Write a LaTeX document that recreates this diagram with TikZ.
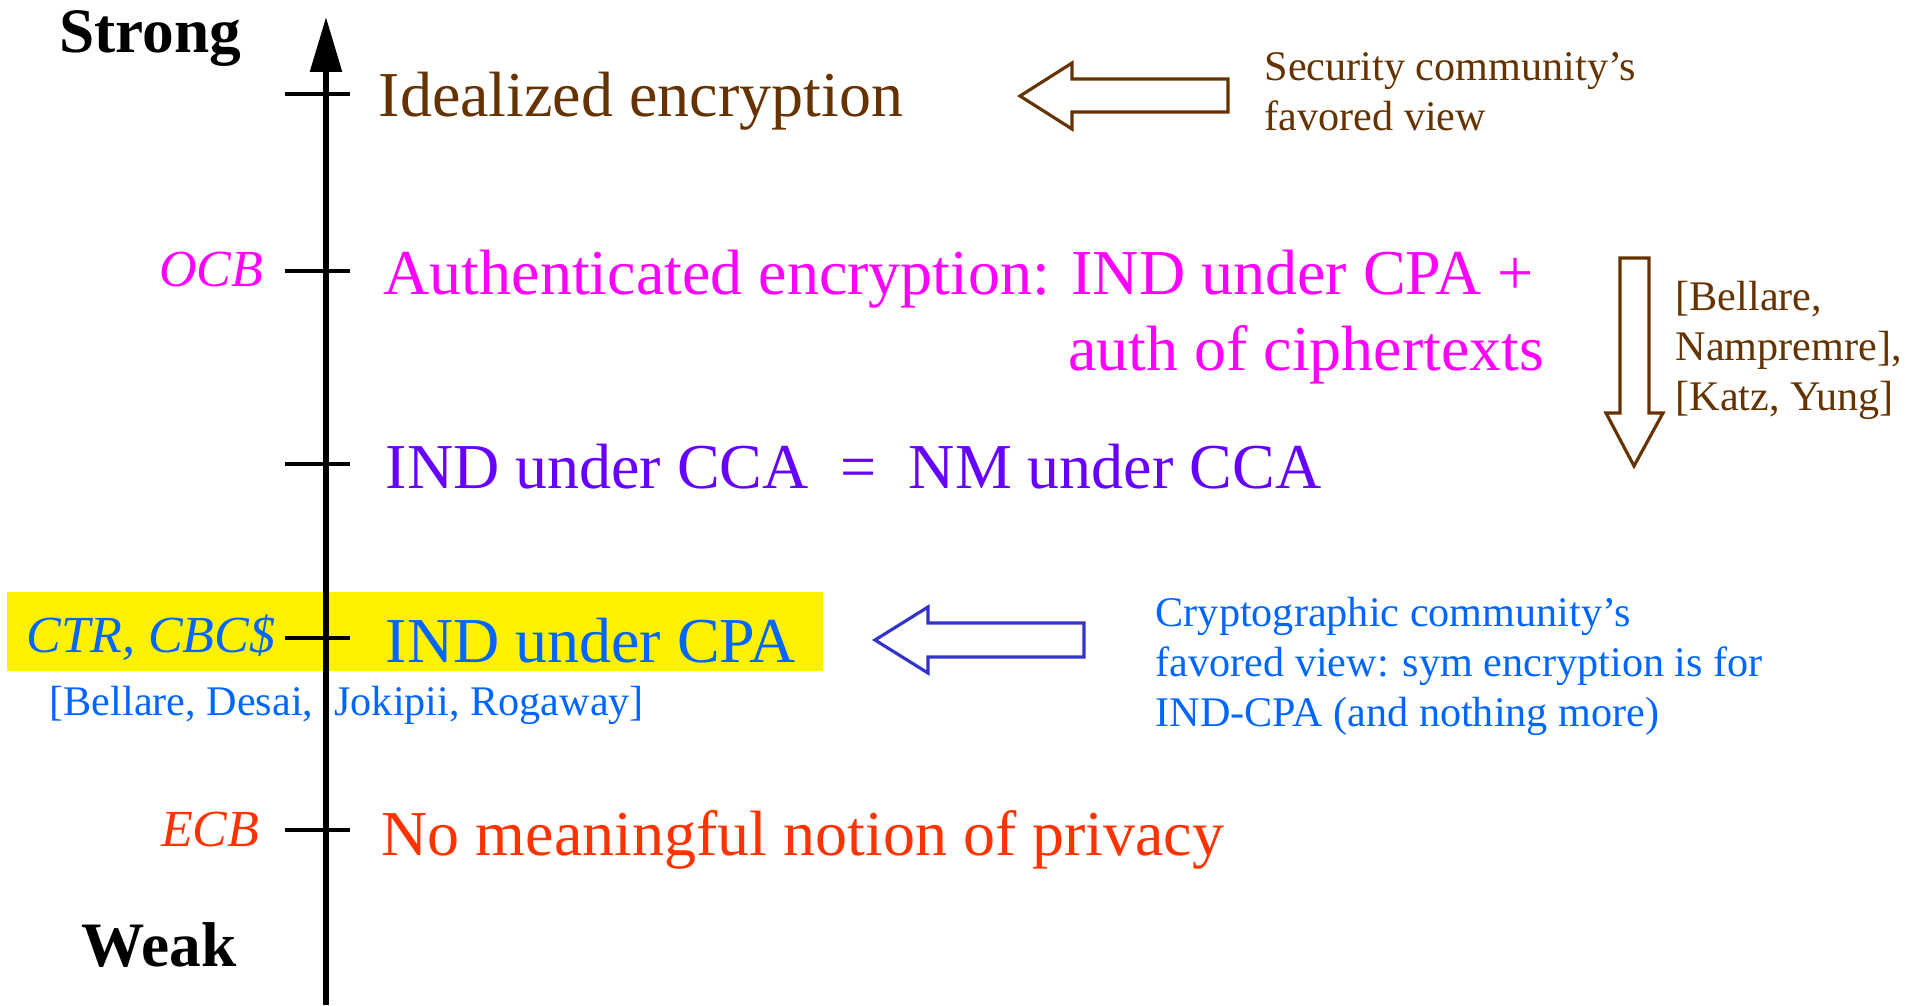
\documentclass[tikz,border=0pt]{standalone}
\usepackage{fontspec}
\setmainfont{Liberation Serif}
\usetikzlibrary{arrows.meta}

\definecolor{brownish}{HTML}{663300}
\definecolor{magentaish}{HTML}{FF00FF}
\definecolor{purpleish}{HTML}{6600FF}
\definecolor{blueish}{HTML}{0066FF}
\definecolor{redish}{HTML}{FF3300}
\definecolor{arrowblue}{HTML}{3333CC}

\tikzset{
  big/.style={anchor=base west, inner sep=0pt, font=\fontsize{18.2pt}{21.6pt}\selectfont},
  scheme/.style={anchor=base east, inner sep=0pt, font=\fontsize{14.8pt}{17pt}\selectfont\itshape},
  side/.style={anchor=base west, inner sep=0pt, align=left, font=\fontsize{12pt}{14.2pt}\selectfont},
  hollow/.style={line width=0.9pt, fill=white, line join=miter},
}

\begin{document}
\begin{tikzpicture}[x=0.01cm,y=-0.01cm]
  \useasboundingbox (0,0) rectangle (1923,1005);
  \def\ax{326};
  % highlight behind the IND-CPA level
  \fill[yellow] (7,592) rectangle (823,671);
  % strength axis and its ticks
  \draw[line width=1.6pt, -{Triangle[length=15.6pt,width=8.8pt]}] (\ax,1005) -- (\ax,17);
  \foreach \y in {94,271,464,638,830}
    \draw[line width=1.1pt] (285,\y) -- (350,\y);
  \node[anchor=base east, inner sep=0pt, font=\fontsize{18pt}{20pt}\selectfont\bfseries] (strong) at (242,52) {Strong};
  \node[anchor=base east, inner sep=0pt, font=\fontsize{18pt}{20pt}\selectfont\bfseries] (weak) at (237,966) {Weak};

  % notions, strongest first (multi-line nodes sit on their last baseline)
  \node[big, text=brownish] (ideal) at (378,116) {Idealized encryption};
  \node[big, text=magentaish, align=right] (ae) at (383,370) {Authenticated encryption: IND under CPA +\hspace*{3.1pt}\\auth of ciphertexts};
  \node[big, text=purpleish] (cca) at (385,488) {IND under CCA\ \ =\ \ NM under CCA};
  \node[big, text=blueish] (cpa) at (385,662) {IND under CPA};
  \node[big, text=redish] (none) at (381,855) {No meaningful notion of privacy};

  % schemes on the left of the axis
  \node[scheme, text=magentaish] (ocb) at (264,286) {OCB};
  \node[scheme, text=blueish] (ctr) at (276,652) {CTR, CBC\$};
  \node[scheme, text=redish] (ecb) at (260,846) {ECB};
  \node[side, text=blueish] (bdjr) at (49,715) {[Bellare, Desai,\ \ Jokipii, Rogaway]};

  % the two community views
  \draw[hollow, draw=brownish] (1020,96) -- (1072,63) -- (1072,79) -- (1228,79)
    -- (1228,112) -- (1072,112) -- (1072,129) -- cycle;
  \node[side, text=brownish] (secview) at (1264,130) {Security community’s\\favored view};
  \draw[hollow, draw=arrowblue] (875,640) -- (928,607) -- (928,623) -- (1084,623)
    -- (1084,657) -- (928,657) -- (928,673) -- cycle;
  \node[side, text=blueish] (cryptoview) at (1155,726) {Cryptographic community’s\\favored view: sym encryption is for\\IND-CPA (and nothing more)};

  % implication AE => CCA
  \draw[hollow, draw=brownish] (1620,258) -- (1649,258) -- (1649,413) -- (1663,413)
    -- (1634,466) -- (1606,413) -- (1620,413) -- cycle;
  \node[side, text=brownish] (bnky) at (1675,410) {[Bellare,\\Nampremre],\\{[Katz, Yung]}};
\end{tikzpicture}
\end{document}
